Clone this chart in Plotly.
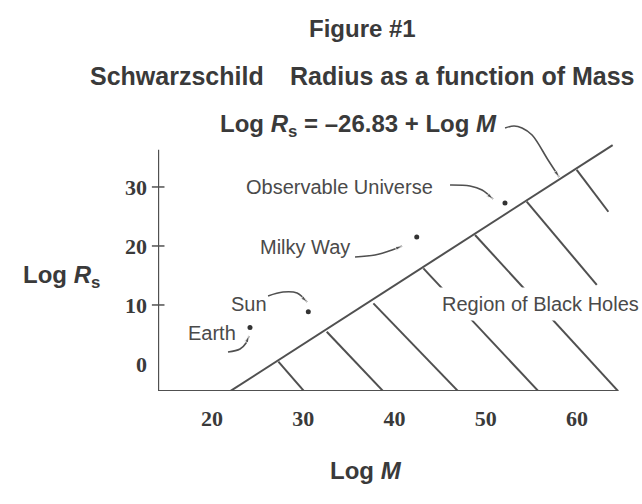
import plotly.graph_objects as go

# ---- data ----
x_ticks = [20, 30, 40, 50, 60]
y_ticks = [0, 10, 20, 30]
y_tick_marks = [10, 20, 30]

# axis extents
axis_m = [14.1, 64.5]
axis_r = [-4.6, 36.3]

# Schwarzschild line  Log R = -26.83 + Log M
line_m = [22.0, 63.9]
line_r = [-4.6, 37.1]

# hatch lines (region of black holes)
hatch_start_m = [27.27, 32.57, 37.68, 43.16, 48.82, 54.48, 59.96]
hatch_start_r = [0.39, 5.47, 10.28, 16.2, 21.86, 27.5, 32.9]
hatch_end_m = [30.08, 38.75, 46.96, 55.76, 64.5, 62.16, 63.43]
hatch_end_r = [-4.6, -4.6, -4.6, -4.6, -4.6, 13.4, 25.8]

# objects
obj_names = ["Earth", "Sun", "Milky Way", "Observable Universe"]
obj_m = [24.16, 30.55, 42.43, 52.1]
obj_r = [6.2, 8.87, 21.5, 27.3]
label_m = [20.0, 24.05, 30.19, 34.0]
label_r = [5.25, 10.17, 19.83, 30.0]

# pointer curves
arrow_earth_m = [21.75, 23.07, 23.73, 24.05]
arrow_earth_r = [2.03, 2.54, 3.56, 4.75]
arrow_sun_m = [26.14, 27.78, 29.32, 30.41]
arrow_sun_r = [11.53, 12.2, 12.03, 10.51]
arrow_mw_m = [35.67, 37.86, 39.73, 40.82]
arrow_mw_r = [18.14, 18.47, 19.32, 20.0]
arrow_ou_m = [46.08, 48.27, 49.59, 50.79]
arrow_ou_r = [30.34, 30.17, 29.49, 27.97]
arrow_eq_m = [52.11, 53.10, 53.97, 55.07, 56.82, 58.03]
arrow_eq_r = [40.0, 40.34, 40.0, 38.81, 34.58, 31.69]

region_label_m = 55.95
region_label_r = 10.17

# ---- style ----
INK = "#3a3a3a"
LABEL_INK = "#4a4a4a"
LINE = "#505050"
SANS = "Liberation Sans, Arial, sans-serif"
SERIF = "Liberation Serif, Times New Roman, serif"

fig = go.Figure()

# axes lines
fig.add_trace(go.Scatter(x=[axis_m[0], axis_m[0], axis_m[1]],
                         y=[axis_r[1], axis_r[0], axis_r[0]],
                         mode="lines", line=dict(color=LINE, width=2),
                         hoverinfo="skip", showlegend=False))
# tick marks crossing the axes
fig.add_trace(go.Scatter(x=x_ticks, y=[axis_r[0]] * len(x_ticks), mode="markers",
                         marker=dict(symbol="line-ns", size=9,
                                     line=dict(color=LINE, width=1.5)),
                         cliponaxis=False, hoverinfo="skip", showlegend=False))
fig.add_trace(go.Scatter(x=[axis_m[0]] * len(y_tick_marks), y=y_tick_marks, mode="markers",
                         marker=dict(symbol="line-ew", size=9,
                                     line=dict(color=LINE, width=1.5)),
                         cliponaxis=False, hoverinfo="skip", showlegend=False))

# main line
fig.add_trace(go.Scatter(x=line_m, y=line_r, mode="lines",
                         line=dict(color=LINE, width=2),
                         hoverinfo="skip", showlegend=False))

# hatch
hx, hy = [], []
for a, b, c, d in zip(hatch_start_m, hatch_start_r, hatch_end_m, hatch_end_r):
    hx += [a, c, None]
    hy += [b, d, None]
fig.add_trace(go.Scatter(x=hx, y=hy, mode="lines",
                         line=dict(color=LINE, width=2),
                         hoverinfo="skip", showlegend=False))

# objects
fig.add_trace(go.Scatter(x=obj_m, y=obj_r, mode="markers",
                         marker=dict(color="#333333", size=5),
                         hoverinfo="skip", showlegend=False))

# pointer curves
for am, ar in [(arrow_earth_m, arrow_earth_r), (arrow_sun_m, arrow_sun_r),
               (arrow_mw_m, arrow_mw_r), (arrow_ou_m, arrow_ou_r),
               (arrow_eq_m, arrow_eq_r)]:
    sizes = [0] * (len(am) - 1) + [7]
    fig.add_trace(go.Scatter(x=am, y=ar, mode="lines+markers",
                             line=dict(color=LINE, width=1.6, shape="spline"),
                             marker=dict(symbol="arrow", size=sizes, angleref="previous",
                                         color=LINE),
                             hoverinfo="skip", showlegend=False))

annotations = []
for name, lm, lr in zip(obj_names, label_m, label_r):
    annotations.append(dict(x=lm, y=lr, xref="x", yref="y", text=name, showarrow=False,
                            font=dict(family=SANS, size=20, color=LABEL_INK)))
annotations.append(dict(x=region_label_m, y=region_label_r, xref="x", yref="y",
                        text="Region of Black Holes", showarrow=False,
                        bgcolor="white", borderpad=5,
                        font=dict(family=SANS, size=20, color=LABEL_INK)))

# titles
def paper_text(x, y, text, size, xanchor="center"):
    return dict(x=x, y=y, xref="paper", yref="paper", xanchor=xanchor, yanchor="middle",
                text=text, showarrow=False, font=dict(family=SANS, size=size, color=INK))

annotations += [
    paper_text(0.4343, 1.244, "<b>Figure #1</b>", 24),
    paper_text(-0.1483, 1.0825, "<b>Schwarzschild</b>", 25, "left"),
    paper_text(1.0148, 1.0825, "<b>Radius as a function of Mass</b>", 25, "right"),
    paper_text(0.1271, 0.914, "<b>Log <i>R</i><sub>s</sub> = \u201326.83 + Log <i>M</i></b>",
               24, "left"),
    paper_text(-0.2034, 0.395, "<b>Log <i>R</i><sub>s</sub></b>", 24),
    paper_text(0.4407, -0.2715, "<b>Log <i>M</i></b>", 24),
]

fig.update_layout(
    width=642, height=504,
    margin=dict(l=158, r=12, t=100, b=113),
    paper_bgcolor="white", plot_bgcolor="white",
    annotations=annotations,
    xaxis=dict(range=[14.08, 65.8], showgrid=False, zeroline=False, showline=False,
               tickvals=x_ticks, ticktext=[str(v) for v in x_ticks], ticks="",
               ticklabelstandoff=12,
               tickfont=dict(family=SERIF, size=22, color=INK, weight="bold")),
    yaxis=dict(range=[-4.58, 44.74], showgrid=False, zeroline=False, showline=False,
               tickvals=y_ticks, ticktext=[str(v) for v in y_ticks], ticks="",
               ticklabelstandoff=10,
               tickfont=dict(family=SERIF, size=22, color=INK, weight="bold")),
)

fig.write_html("out.html", config={"displayModeBar": False},
               post_script="document.body.style.margin='0';")
